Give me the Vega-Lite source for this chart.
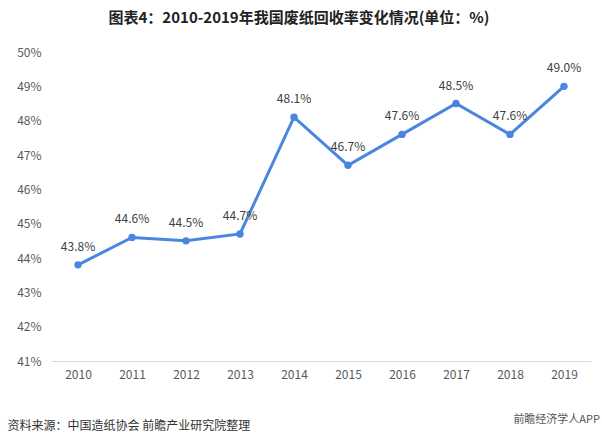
{
  "$schema": "https://vega.github.io/schema/vega-lite/v6.json",
  "autosize": "none",
  "width": 540,
  "height": 309,
  "padding": {"left": 51, "top": 52, "right": 11, "bottom": 80},
  "background": "white",
  "config": {"view": {"stroke": null}, "font": "Noto Sans CJK SC"},
  "title": {
    "text": "图表4：2010-2019年我国废纸回收率变化情况(单位：%)",
    "fontSize": 15,
    "fontWeight": "bold",
    "color": "#222222",
    "anchor": "middle",
    "dx": -22,
    "offset": 20,
    "font": "Noto Sans CJK SC"
  },
  "data": {
    "values": [
      {"year": "2010", "rate": 43.8},
      {"year": "2011", "rate": 44.6},
      {"year": "2012", "rate": 44.5},
      {"year": "2013", "rate": 44.7},
      {"year": "2014", "rate": 48.1},
      {"year": "2015", "rate": 46.7},
      {"year": "2016", "rate": 47.6},
      {"year": "2017", "rate": 48.5},
      {"year": "2018", "rate": 47.6},
      {"year": "2019", "rate": 49.0}
    ]
  },
  "encoding": {
    "x": {
      "field": "year",
      "type": "ordinal",
      "scale": {"paddingInner": 0, "paddingOuter": 0.5},
      "axis": {
        "labelAngle": 0,
        "labelFontSize": 12,
        "labelColor": "#595959",
        "labelPadding": 8,
        "ticks": false,
        "domainColor": "#d9d9d9",
        "title": "资料来源：中国造纸协会 前瞻产业研究院整理",
        "titleFontSize": 12,
        "titleFontWeight": "normal",
        "titleColor": "#333333",
        "titleAnchor": "start",
        "titleAlign": "left",
        "titleX": -44,
        "titleY": 59
      }
    },
    "y": {
      "field": "rate",
      "type": "quantitative",
      "scale": {"domain": [41, 50], "nice": false, "zero": false},
      "axis": {
        "values": [41, 42, 43, 44, 45, 46, 47, 48, 49, 50],
        "labelExpr": "datum.value + '%'",
        "labelFontSize": 12,
        "labelColor": "#595959",
        "labelPadding": 10,
        "ticks": false,
        "domain": false,
        "grid": false,
        "title": null
      }
    }
  },
  "layer": [
    {
      "mark": {"type": "line", "color": "#4a86e0", "strokeWidth": 3}
    },
    {
      "mark": {"type": "point", "filled": true, "color": "#4a86e0", "size": 55, "opacity": 1}
    },
    {
      "transform": [{"calculate": "format(datum.rate, '.1f') + '%'", "as": "label"}],
      "mark": {"type": "text", "dy": -18, "fontSize": 12, "color": "#404040"},
      "encoding": {
        "text": {"field": "label", "type": "nominal"}
      }
    },
    {
      "data": {"values": [{"label": "前瞻经济学人APP", "year": "2019", "rate": 41}]},
      "mark": {"type": "text", "align": "right", "baseline": "middle", "dx": 36, "dy": 59, "fontSize": 11, "color": "#555555"},
      "encoding": {
        "x": {"field": "year", "type": "ordinal"},
        "y": {"field": "rate", "type": "quantitative"},
        "text": {"field": "label", "type": "nominal"}
      }
    }
  ]
}
